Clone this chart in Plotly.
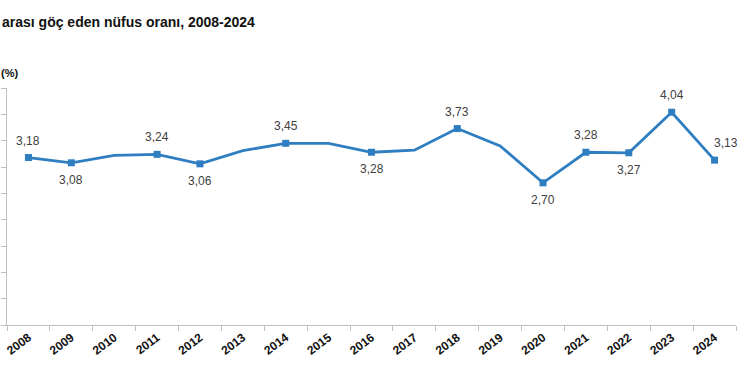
import plotly.graph_objects as go

years = [str(y) for y in range(2008, 2025)]
values = [3.18, 3.08, 3.22, 3.24, 3.06, 3.31, 3.45, 3.45, 3.28, 3.32, 3.73, 3.40, 2.70, 3.28, 3.27, 4.04, 3.13]
labeled = ["2008", "2009", "2011", "2012", "2014", "2016", "2018", "2020", "2021", "2022", "2023", "2024"]
label_side = {"2008": 1, "2009": -1, "2011": 1, "2012": -1, "2014": 1, "2016": -1,
              "2018": 1, "2020": -1, "2021": 1, "2022": -1, "2023": 1, "2024": 1}

LINE = "#2F7EC1"
FONT = "Liberation Sans, Arial, sans-serif"

fig = go.Figure()
marker_x = [y for y in years if y in labeled]
marker_y = [v for y, v in zip(years, values) if y in labeled]
fig.add_trace(go.Scatter(x=years, y=values, mode="lines",
                         line=dict(color=LINE, width=2.8), hoverinfo="skip"))
fig.add_trace(go.Scatter(x=marker_x, y=marker_y, mode="markers",
                         marker=dict(symbol="square", size=7, color=LINE), hoverinfo="skip"))

annotations = []
for i, (y, v) in enumerate(zip(years, values)):
    if y not in labeled:
        continue
    side = label_side[y]
    annotations.append(dict(
        x=i, y=v, xref="x", yref="y", text=f"{v:.2f}".replace(".", ","),
        showarrow=False, yshift=17 * side, xshift=11 if y == "2024" else 0,
        font=dict(family=FONT, size=12, color="#404040")))

annotations.append(dict(text="<b>arası göç eden nüfus oranı, 2008-2024</b>",
                        xref="paper", yref="paper", x=-7 / 729, y=1 + (88 - 22) / 237,
                        xanchor="left", yanchor="middle", showarrow=False,
                        font=dict(family=FONT, size=14, color="#111111")))
annotations.append(dict(text="<b>(%)</b>",
                        xref="paper", yref="paper", x=-8 / 729, y=1 + (88 - 73) / 237,
                        xanchor="left", yanchor="middle", showarrow=False,
                        font=dict(family=FONT, size=11, color="#111111")))

fig.update_layout(
    width=740, height=380,
    margin=dict(l=7, r=4, t=88, b=55),
    paper_bgcolor="white", plot_bgcolor="white",
    showlegend=False,
    annotations=annotations,
    font=dict(family=FONT),
    xaxis=dict(type="category", categoryorder="array", categoryarray=years,
               range=[-0.5, 16.5], showgrid=False, zeroline=False, automargin=False,
               showline=True, linecolor="#BFBFBF", linewidth=1,
               ticks="outside", tickson="boundaries", ticklen=5, tickcolor="#BFBFBF",
               tickangle=-37,
               tickfont=dict(family=FONT, size=12, color="#111111", weight="bold")),
    yaxis=dict(range=[0, 4.5], dtick=0.5, showgrid=False, zeroline=False, automargin=False,
               showline=True, linecolor="#BFBFBF", linewidth=1,
               ticks="outside", ticklen=5, tickcolor="#BFBFBF",
               showticklabels=False),
)

fig.write_html("out.html", config={"displayModeBar": False},
               post_script="document.body.style.margin='0';")
